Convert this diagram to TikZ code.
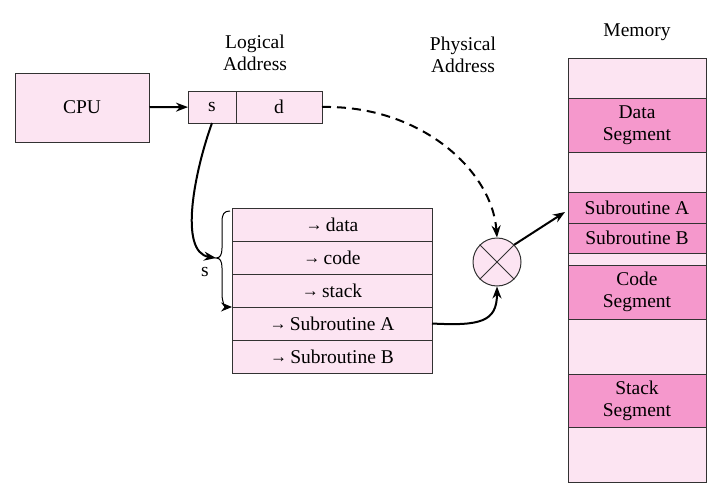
\documentclass[tikz,border=0pt]{standalone}
\usepackage{fontspec}
\setmainfont{Liberation Serif}
\usepackage{tikz}
\usetikzlibrary{shapes.geometric, arrows, arrows.meta, positioning}
\definecolor{lightpink}{RGB}{252,228,242}
\definecolor{darkpink}{RGB}{245,152,204}
\definecolor{edgegray}{RGB}{50,50,50}
\tikzstyle{cpubox} = [rectangle, minimum width=134pt, minimum height=69pt, draw=edgegray, fill=lightpink, line width=1pt]
\tikzstyle{addrcell} = [rectangle, minimum height=32pt, draw=edgegray, fill=lightpink, line width=1pt, inner sep=0pt, outer sep=0pt]
\tikzstyle{segrow} = [rectangle, minimum width=200pt, minimum height=33pt, draw=edgegray, fill=lightpink, line width=1pt, inner sep=0pt, outer sep=0pt]
\tikzstyle{memfree} = [rectangle, minimum width=138pt, draw=edgegray, fill=lightpink, line width=1pt, inner sep=0pt, outer sep=0pt, align=center]
\tikzstyle{memused} = [memfree, fill=darkpink]
\tikzstyle{multnode} = [circle, minimum size=48pt, draw=edgegray, fill=lightpink, line width=1pt, inner sep=0pt]
\tikzstyle{arrow} = [line width=2pt,->,>={Stealth[length=12pt,width=9pt]}]
\tikzstyle{dashedarrow} = [arrow, dash pattern=on 9pt off 6pt]
\newcommand{\ptr}{\raisebox{0.5pt}{\fontsize{17}{17}\selectfont →}\,}

\begin{document}
\begin{tikzpicture}[x=1pt, y=-1pt, font=\fontsize{19.5}{22}\selectfont]
    \useasboundingbox (0,0) rectangle (726,490);
        \node (cpu) [cpubox] at (82,107.5) {CPU};
        \node (s) [addrcell, minimum width=48pt] at (212,107) {s};
        \node (d) [addrcell, minimum width=86pt, right=0pt of s] {d};
        \node (logical) [align=center] at (255,53) {Logical\\Address};
        \node (physical) [align=center] at (463,55) {Physical\\Address};
        \node (memlabel) at (637,32) {Memory};

        \node (row1) [segrow] at (332,224.5) {\ptr data};
        \node (row2) [segrow, below=0pt of row1] {\ptr code};
        \node (row3) [segrow, below=0pt of row2] {\ptr stack};
        \node (row4) [segrow, below=0pt of row3] {\ptr Subroutine A};
        \node (row5) [segrow, below=0pt of row4] {\ptr Subroutine B};

        \node (mult) [multnode] at (497,262) {};
        \draw [line width=1pt, edgegray] (mult.45) -- (mult.225) (mult.135) -- (mult.315);

        \node (m1) [memfree, minimum height=40pt] at (637,78) {};
        \node (m2) [memused, minimum height=54pt, below=0pt of m1] {Data\\Segment};
        \node (m3) [memfree, minimum height=40pt, below=0pt of m2] {};
        \node (m4) [memused, minimum height=31pt, below=0pt of m3] {Subroutine A};
        \node (m5) [memused, minimum height=30pt, below=0pt of m4] {Subroutine B};
        \node (m6) [memfree, minimum height=12pt, below=0pt of m5] {};
        \node (m7) [memused, minimum height=54pt, below=0pt of m6] {Code\\Segment};
        \node (m8) [memfree, minimum height=55pt, below=0pt of m7] {};
        \node (m9) [memused, minimum height=53pt, below=0pt of m8] {Stack\\Segment};
        \node (m10) [memfree, minimum height=55pt, below=0pt of m9] {};

        \coordinate (bracetip) at (216,258);
        \node (slabel) at (205,272) {s};

        \draw [arrow] (cpu) -- (s);
        \draw [arrow] (s.south) .. controls (195,170) and (178,252) .. (bracetip);
        \draw [line width=1pt, ->, >={Stealth[length=11pt,width=9pt]}] (230,211) .. controls (224,211) and (222,214) .. (222,222) -- (222,248) .. controls (222,255) and (220,258) .. (bracetip) .. controls (220,258) and (222,261) .. (222,268) -- (222,294) .. controls (222,302) and (225,307) .. (row4.north west);
        \draw [dashedarrow] (d.east) .. controls (420,105) and (492,170) .. (mult.north);
        \draw [arrow] (row4.east) .. controls (480,326) and (497,322) .. (mult.south);
        \draw [arrow] (mult.45) -- ([xshift=-3pt, yshift=-4.5pt]m4.west);


    \end{tikzpicture}
\end{document}
